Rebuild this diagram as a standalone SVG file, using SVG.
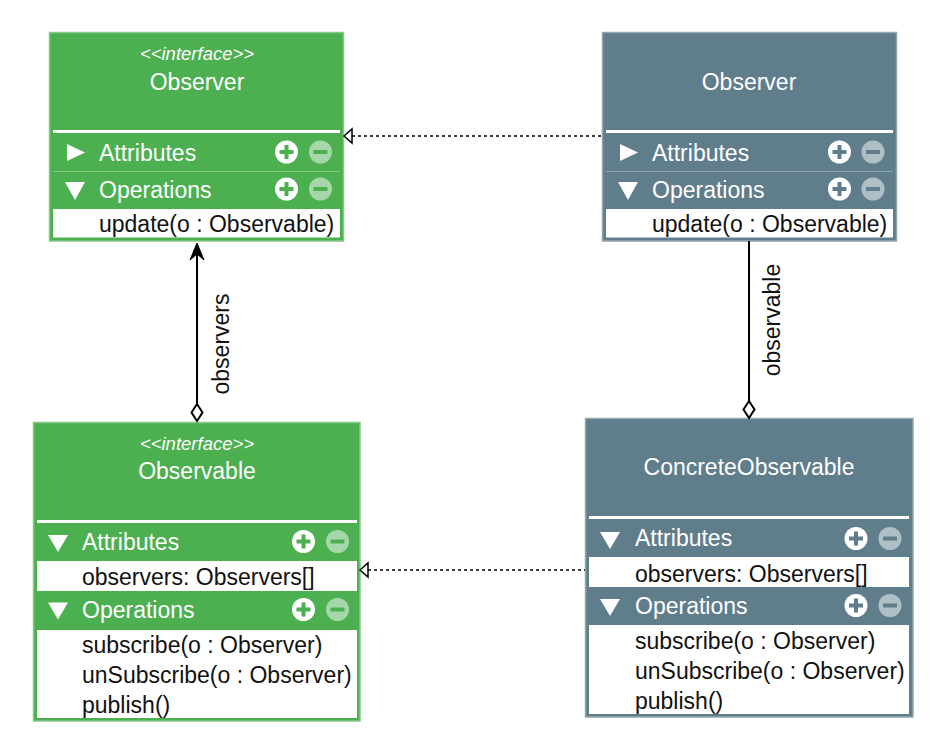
<svg xmlns="http://www.w3.org/2000/svg" width="946" height="756" viewBox="0 0 946 756">
<defs>
<style>
text{font-family:"Liberation Sans",Arial,sans-serif;}
.g{fill:#4CAF50;stroke:#86C989;stroke-width:1.5;}
.s{fill:#607D8B;stroke:#93A7B1;stroke-width:1.5;}
.title{fill:#fff;font-size:23px;text-anchor:middle;}
.stereo{fill:#fff;font-size:18.5px;font-style:italic;text-anchor:middle;}
.sec{fill:#fff;font-size:23px;}
.item{fill:#111;font-size:23px;}
.wb{fill:#fff;}
.tri{fill:#fff;}
.pc{fill:#fff;}
.mc{fill:#fff;fill-opacity:0.5;}
.thin{stroke:#fff;stroke-opacity:0.3;stroke-width:1;}
.conn{fill:none;stroke:#000;stroke-width:2;}
.dash{fill:none;stroke:#000;stroke-width:1.5;stroke-dasharray:3 3;}
.lbl{fill:#111;font-size:23px;text-anchor:middle;}
</style>
</defs>

<g id="observer-interface">
<rect class="g" x="49.5" y="32.5" width="294" height="208.5"/>
<text class="stereo" x="197" y="60">&lt;&lt;interface&gt;&gt;</text>
<text class="title" x="197" y="90">Observer</text>
<rect class="wb" x="53" y="130" width="287" height="3"/>
<polygon class="tri" points="67,144 85,152.5 67,161"/>
<text class="sec" x="99" y="160.5">Attributes</text>
<circle class="pc" cx="286.5" cy="152" r="11.5"/>
<path d="M279.5,152H293.5M286.5,145V159" stroke="#4CAF50" stroke-width="4"/>
<circle class="mc" cx="320.5" cy="152" r="11.5"/>
<path d="M313.5,152H327.5" stroke="#4CAF50" stroke-width="4"/>
<line class="thin" x1="53" y1="171.5" x2="340" y2="171.5"/>
<polygon class="tri" points="65,182 85,182 75,200"/>
<text class="sec" x="99" y="198">Operations</text>
<circle class="pc" cx="286.5" cy="189" r="11.5"/>
<path d="M279.5,189H293.5M286.5,182V196" stroke="#4CAF50" stroke-width="4"/>
<circle class="mc" cx="320.5" cy="189" r="11.5"/>
<path d="M313.5,189H327.5" stroke="#4CAF50" stroke-width="4"/>
<rect class="wb" x="53" y="209" width="287" height="28.5"/>
<text class="item" x="99" y="232">update(o : Observable)</text>
</g>

<g id="observer-concrete">
<rect class="s" x="602.5" y="32.5" width="294" height="208.5"/>
<text class="title" x="749" y="90">Observer</text>
<rect class="wb" x="606" y="130" width="287" height="3"/>
<polygon class="tri" points="620,144 638,152.5 620,161"/>
<text class="sec" x="652" y="160.5">Attributes</text>
<circle class="pc" cx="839.5" cy="152" r="11.5"/>
<path d="M832.5,152H846.5M839.5,145V159" stroke="#607D8B" stroke-width="4"/>
<circle class="mc" cx="873" cy="152" r="11.5"/>
<path d="M866,152H880" stroke="#607D8B" stroke-width="4"/>
<line class="thin" x1="606" y1="171.5" x2="893" y2="171.5"/>
<polygon class="tri" points="618,182 638,182 628,200"/>
<text class="sec" x="652" y="198">Operations</text>
<circle class="pc" cx="839.5" cy="189" r="11.5"/>
<path d="M832.5,189H846.5M839.5,182V196" stroke="#607D8B" stroke-width="4"/>
<circle class="mc" cx="873" cy="189" r="11.5"/>
<path d="M866,189H880" stroke="#607D8B" stroke-width="4"/>
<rect class="wb" x="606" y="209" width="287" height="28.5"/>
<text class="item" x="652" y="232">update(o : Observable)</text>
</g>

<g id="observable-interface">
<rect class="g" x="33.5" y="422.5" width="326.5" height="298.5"/>
<text class="stereo" x="197" y="450">&lt;&lt;interface&gt;&gt;</text>
<text class="title" x="197" y="479">Observable</text>
<rect class="wb" x="37" y="520" width="320" height="3"/>
<polygon class="tri" points="48,535 68,535 58,552"/>
<text class="sec" x="82" y="549.5">Attributes</text>
<circle class="pc" cx="303.5" cy="541.5" r="11.5"/>
<path d="M296.5,541.5H310.5M303.5,534.5V548.5" stroke="#4CAF50" stroke-width="4"/>
<circle class="mc" cx="337.5" cy="541.5" r="11.5"/>
<path d="M330.5,541.5H344.5" stroke="#4CAF50" stroke-width="4"/>
<rect class="wb" x="37" y="561" width="320" height="30"/>
<text class="item" x="82" y="585">observers: Observers[]</text>
<polygon class="tri" points="48,602.5 68,602.5 58,619.5"/>
<text class="sec" x="82" y="618">Operations</text>
<circle class="pc" cx="303.5" cy="609.5" r="11.5"/>
<path d="M296.5,609.5H310.5M303.5,602.5V616.5" stroke="#4CAF50" stroke-width="4"/>
<circle class="mc" cx="337.5" cy="609.5" r="11.5"/>
<path d="M330.5,609.5H344.5" stroke="#4CAF50" stroke-width="4"/>
<rect class="wb" x="37" y="630" width="320" height="88"/>
<text class="item" x="82" y="653">subscribe(o : Observer)</text>
<text class="item" x="82" y="683">unSubscribe(o : Observer)</text>
<text class="item" x="82" y="713">publish()</text>
</g>

<g id="concrete-observable">
<rect class="s" x="585.5" y="418.5" width="327.5" height="298.5"/>
<text class="title" x="749" y="475">ConcreteObservable</text>
<rect class="wb" x="589" y="516" width="320" height="3"/>
<polygon class="tri" points="600,532 620,532 610,549"/>
<text class="sec" x="635" y="546">Attributes</text>
<circle class="pc" cx="856" cy="538.5" r="11.5"/>
<path d="M849,538.5H863M856,531.5V545.5" stroke="#607D8B" stroke-width="4"/>
<circle class="mc" cx="890" cy="538.5" r="11.5"/>
<path d="M883,538.5H897" stroke="#607D8B" stroke-width="4"/>
<rect class="wb" x="589" y="557" width="320" height="30"/>
<text class="item" x="635" y="581.5">observers: Observers[]</text>
<polygon class="tri" points="600,599 620,599 610,616"/>
<text class="sec" x="635" y="614">Operations</text>
<circle class="pc" cx="856" cy="605.5" r="11.5"/>
<path d="M849,605.5H863M856,598.5V612.5" stroke="#607D8B" stroke-width="4"/>
<circle class="mc" cx="890" cy="605.5" r="11.5"/>
<path d="M883,605.5H897" stroke="#607D8B" stroke-width="4"/>
<rect class="wb" x="589" y="625" width="320" height="89"/>
<text class="item" x="635" y="648.5">subscribe(o : Observer)</text>
<text class="item" x="635" y="678.5">unSubscribe(o : Observer)</text>
<text class="item" x="635" y="708.5">publish()</text>
</g>

<g id="connectors">
<line class="dash" x1="352" y1="136" x2="602" y2="136"/>
<polygon points="344,136 352,129 352,143" fill="#fff" stroke="#000" stroke-width="1.5"/>
<line class="dash" x1="368" y1="570" x2="585" y2="570"/>
<polygon points="360,570 368,563 368,577" fill="#fff" stroke="#000" stroke-width="1.5"/>
<line class="conn" x1="197" y1="250" x2="197" y2="404"/>
<path d="M197,243 L204,260 L197,254 L190,260 Z" fill="#000" stroke="#000" stroke-width="1"/>
<polygon points="197,404 202.5,412.5 197,421 191.5,412.5" fill="#fff" stroke="#000" stroke-width="2"/>
<text class="lbl" transform="translate(229,344) rotate(-90)">observers</text>
<line class="conn" x1="749" y1="241" x2="749" y2="401"/>
<polygon points="749,401 754.5,409.5 749,418 743.5,409.5" fill="#fff" stroke="#000" stroke-width="2"/>
<text class="lbl" transform="translate(780,320) rotate(-90)">observable</text>
</g>
</svg>
